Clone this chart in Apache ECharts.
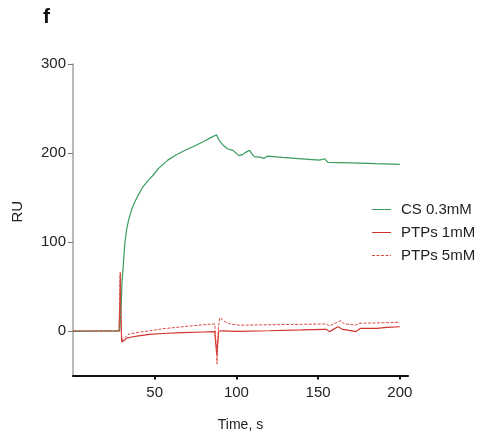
<!DOCTYPE html>
<html>
<head>
<meta charset="utf-8">
<script src="https://cdn.jsdelivr.net/npm/echarts@6/dist/echarts.min.js"></script>
<style>html,body{margin:0;padding:0;background:#fff}#c{width:482px;height:439px}</style>
</head>
<body>
<div id="c"></div>
<script>
// [time (s), response (RU)]
var seriesNames = ['CS 0.3mM', 'PTPs 1mM', 'PTPs 5mM'];
var csData = [
  [0, -0.5], [10, -0.3], [20, 0], [28.5, 0], [29.2, 20], [29.7, 40], [30, 55], [30.7, 72],
  [31.7, 98], [32.7, 113], [33.7, 122], [34.7, 129], [36.2, 138], [37.8, 145], [40, 153],
  [42.8, 162], [45.9, 169], [49, 175], [52.5, 183], [55, 187], [58, 192],
  [63.3, 198], [69.5, 204], [73.4, 207], [80, 213], [84, 217], [87.8, 220.5],
  [89.5, 214], [91.7, 209], [94.8, 204.5], [97.9, 203],
  [101.5, 197], [104, 198.5], [106, 201], [108, 203], [109.5, 199], [111, 196],
  [115, 195], [117, 194], [119, 196.5], [128, 195], [140, 193.5], [150.8, 192],
  [154, 193.5], [156, 189.5], [170, 189], [185, 188], [200, 187.3]
];
var ptp1Data = [
  [0, 0], [10, 0], [20, 0], [28.2, 0], [28.7, 30], [29, 64], [29.3, 20], [29.8, -12],
  [30.6, -13], [31.5, -10], [33, -8], [35, -7], [40, -5.5], [47, -3.7], [55, -2.8],
  [67, -1.9], [80, -1.1], [86.7, -0.8], [87.5, -3], [88, -27], [88.5, -14], [89.2, 0],
  [92, 0.2], [100, -0.4], [120, 0.3], [140, 1.2], [153, 1.9], [155, 1.9], [157, -0.7],
  [162, 4.8], [165, 1.9], [169, 0.8], [173, -0.7], [176, 3], [186, 3], [192, 4],
  [200, 4.8]
];
var ptp5Data = [
  [0, 0], [10, 0], [20, 0], [28.2, 0], [28.6, 40], [28.9, 66], [29.2, 30], [29.7, -5],
  [30.4, -13], [31.5, -8], [33.7, -3.7], [40, -1.5], [47, 0.3], [55, 2.5], [67, 4.8],
  [80, 7], [86.7, 8], [87.4, 7], [87.8, -20], [88.1, -37], [88.5, -20], [89, 5],
  [89.8, 15], [91, 14], [93, 10.5], [96, 8], [102, 6.5], [120, 7], [140, 7.5],
  [153, 7.9], [155, 7.9], [157, 5.6], [161, 9.3], [164, 11.6], [166, 7.9], [169, 7.5],
  [173, 6.7], [175, 8.7], [185, 9], [200, 9.8]
];
var xTicks = [50, 100, 150, 200];
var yTicks = [0, 100, 200, 300];

var solidIcon = 'path://M0,0h19v1h-19z';
var dashIcon = 'path://M0,0h3v1h-3zM4.5,0h3v1h-3zM9,0h3v1h-3zM13.5,0h3v1h-3zM18,0h1v1h-1z';

var chart = echarts.init(document.getElementById('c'), null, {renderer: 'canvas'});
var font = 'Liberation Sans, Arial, sans-serif';
chart.setOption({
  animation: false,
  backgroundColor: '#fff',
  title: {
    text: 'f', left: 38, top: 2,
    textStyle: {fontFamily: font, fontSize: 21, fontWeight: 'bold', color: '#111'}
  },
  legend: {
    orient: 'vertical', left: 367, top: 197, itemWidth: 19, itemHeight: 1.4, itemGap: 8,
    data: [
      {name: seriesNames[0], icon: solidIcon},
      {name: seriesNames[1], icon: solidIcon},
      {name: seriesNames[2], icon: dashIcon}
    ],
    textStyle: {fontFamily: font, fontSize: 15, color: '#222', padding: [0, 0, 0, 5]}
  },
  grid: {left: 73, top: 64, width: 335, height: 311.5, containLabel: false},
  xAxis: {
    type: 'value', min: 0, max: 205,
    name: 'Time, s', nameLocation: 'middle', nameGap: 43,
    nameTextStyle: {fontFamily: font, fontSize: 14, color: '#222'},
    axisLine: {show: true, onZero: false, lineStyle: {color: '#111', width: 2.2}},
    axisTick: {show: true, length: 4, customValues: xTicks, lineStyle: {color: '#111', width: 2}},
    axisLabel: {customValues: xTicks, margin: 10, fontFamily: font, fontSize: 15, color: '#222'},
    splitLine: {show: false}
  },
  yAxis: {
    type: 'value', min: -50, max: 300,
    name: 'RU', nameLocation: 'middle', nameGap: 48,
    nameTextStyle: {fontFamily: font, fontSize: 15, color: '#222', padding: [0, 0, 0, 16]},
    axisLine: {show: true, onZero: false, lineStyle: {color: '#aaa', width: 1.6}},
    axisTick: {show: true, length: 5, customValues: yTicks, lineStyle: {color: '#777', width: 1}},
    axisLabel: {customValues: yTicks, margin: 7, fontFamily: font, fontSize: 15, color: '#222'},
    splitLine: {show: false}
  },
  series: [
    {name: seriesNames[0], type: 'line', data: csData, symbol: 'none', z: 3,
     lineStyle: {color: '#3a9c5c', width: 1.2}, itemStyle: {color: '#3a9c5c'}},
    {name: seriesNames[1], type: 'line', data: ptp1Data, symbol: 'none', z: 2,
     lineStyle: {color: '#d1322b', width: 1.2}, itemStyle: {color: '#d1322b'}},
    {name: seriesNames[2], type: 'line', data: ptp5Data, symbol: 'none', z: 4,
     lineStyle: {color: '#dc4a44', width: 1, type: [3, 1.5]}, itemStyle: {color: '#dc4a44'}}
  ]
});
</script>
</body>
</html>
